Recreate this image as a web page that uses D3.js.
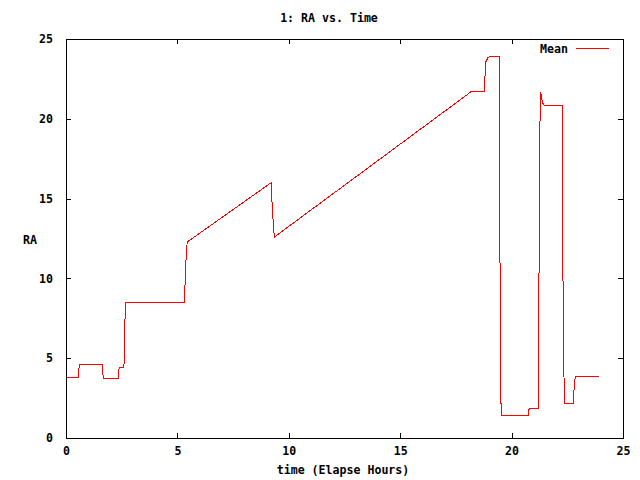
<!DOCTYPE html>
<html><head><meta charset="utf-8">
<script src="https://cdn.jsdelivr.net/npm/d3@7"></script>
<style>
html,body{margin:0;padding:0;background:#fff;}
text{font-family:"DejaVu Sans Mono","Liberation Mono",monospace;font-weight:bold;font-size:11.6px;fill:#000;}
</style></head>
<body><svg id="c" width="640" height="480"></svg>
<script>
const titleText = "1: RA vs. Time";
const xLabel = "time (Elapse Hours)";
const yLabel = "RA";
const seriesName = "Mean";
const xTicks = [0, 5, 10, 15, 20, 25];
const yTicks = [0, 5, 10, 15, 20, 25];
const timeHours = [0.03, 0.55, 0.57, 0.60, 1.63, 1.65, 1.67, 2.35, 2.37, 2.39, 2.60, 2.62, 2.65, 2.68, 5.31, 5.33, 5.35, 5.40, 5.44, 9.21, 9.26, 9.35, 18.09, 18.18, 18.77, 18.79, 18.82, 18.85, 18.94, 19.03, 19.44, 19.46, 19.49, 19.53, 20.75, 20.76, 20.80, 21.20, 21.22, 21.25, 21.29, 21.33, 21.39, 21.46, 22.27, 22.28, 22.32, 22.37, 22.77, 22.78, 22.82, 22.86, 23.93];
const raMean =    [3.78, 3.78, 4.20, 4.60, 4.60, 4.20, 3.72, 3.72, 4.20, 4.41, 4.41, 5.40, 7.50, 8.48, 8.48, 8.94, 10.08, 11.54, 12.28, 16.00, 14.30, 12.59, 21.60, 21.72, 21.72, 22.20, 23.10, 23.58, 23.83, 23.93, 23.93, 18.30, 7.00, 1.40, 1.40, 1.72, 1.84, 1.84, 6.90, 16.60, 21.68, 21.48, 21.00, 20.85, 20.85, 16.20, 6.90, 2.16, 2.16, 2.54, 3.42, 3.87, 3.87];

const svg = d3.select("#c");
const L = 66, R = 623, T = 39, B = 438;
const x = d3.scaleLinear().domain([0, 25]).range([L, R]);
const y = d3.scaleLinear().domain([0, 25]).range([B, T]);

svg.append("rect").attr("width",640).attr("height",480).attr("fill","#fff");

// axes with inward ticks on all four sides
const tl = 5;
const ax = svg.append("g").attr("shape-rendering","crispEdges");
ax.append("g").attr("transform",`translate(0,${B})`)
  .call(d3.axisBottom(x).tickValues(xTicks).tickSizeInner(-tl).tickSizeOuter(0).tickPadding(9).tickFormat(d3.format("d")));
ax.append("g").attr("transform",`translate(0,${T})`)
  .call(d3.axisTop(x).tickValues(xTicks).tickSizeInner(-tl).tickSizeOuter(0).tickFormat(""));
ax.append("g").attr("transform",`translate(${L},0)`)
  .call(d3.axisLeft(y).tickValues(yTicks).tickSizeInner(-tl).tickSizeOuter(0).tickPadding(13).tickFormat(d3.format("d")));
ax.append("g").attr("transform",`translate(${R},0)`)
  .call(d3.axisRight(y).tickValues(yTicks).tickSizeInner(-tl).tickSizeOuter(0).tickFormat(""));
ax.selectAll(".domain").remove();
ax.selectAll("line").attr("stroke","#000");
ax.selectAll("text").attr("font-family",null).attr("font-size",null).attr("fill","#000");
svg.append("rect").attr("x",L+0.5).attr("y",T+0.5).attr("width",R-L).attr("height",B-T)
  .attr("fill","none").attr("stroke","#000").attr("stroke-width",1).attr("shape-rendering","crispEdges");

// data line
const pts = timeHours.map((t,i)=>[t, raMean[i]]);
svg.append("path").datum(pts)
  .attr("d", d3.line().x(d=>x(d[0])).y(d=>y(d[1])))
  .attr("fill","none").attr("stroke","#ff0000").attr("stroke-width",1)
  .attr("shape-rendering","crispEdges");

// legend
svg.append("text").attr("x",568).attr("y",49).attr("text-anchor","end").attr("dominant-baseline","middle").text(seriesName);
svg.append("line").attr("x1",576).attr("x2",609).attr("y1",48.5).attr("y2",48.5).attr("stroke","#ff0000").attr("stroke-width",1).attr("shape-rendering","crispEdges");

// titles
svg.append("text").attr("x",329).attr("y",18).attr("text-anchor","middle").attr("dominant-baseline","middle").text(titleText);
svg.append("text").attr("x",343).attr("y",470).attr("text-anchor","middle").attr("dominant-baseline","middle").text(xLabel);
svg.append("text").attr("x",30).attr("y",240).attr("text-anchor","middle").attr("dominant-baseline","middle").text(yLabel);
</script></body></html>
